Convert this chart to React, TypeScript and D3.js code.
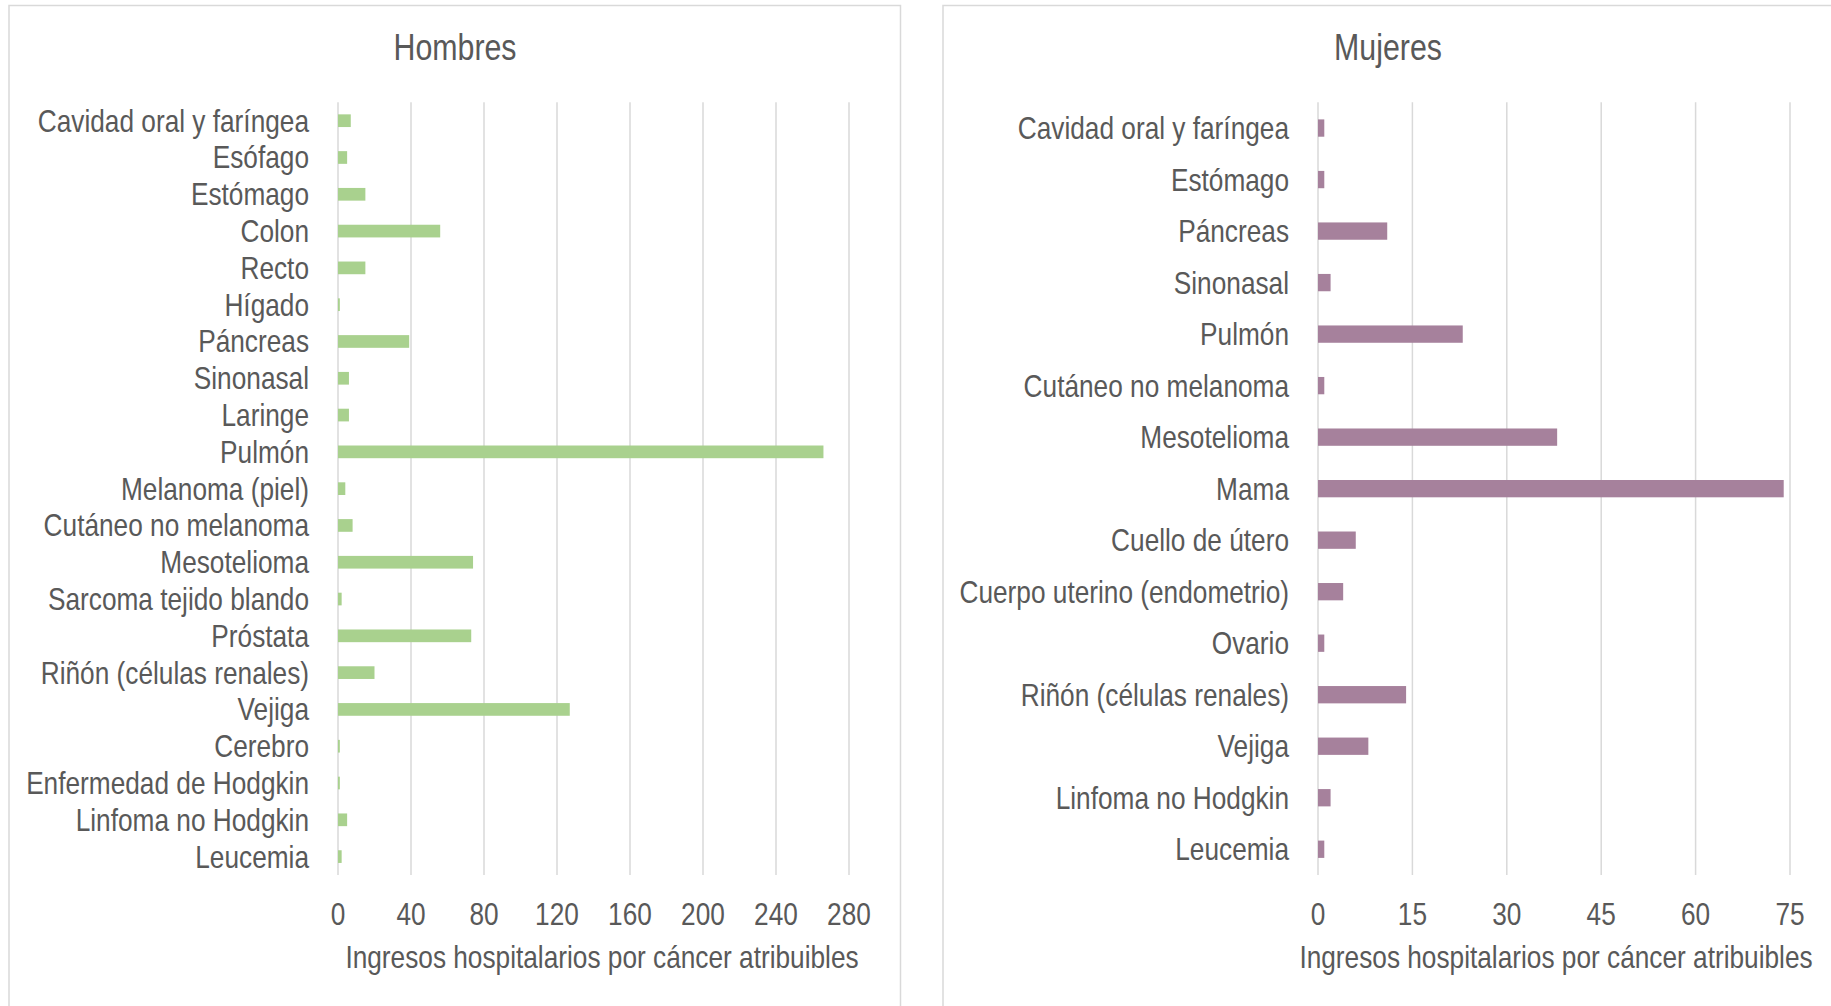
import React from "react";
import * as d3 from "d3";

const menCategories = [
  "Cavidad oral y faríngea", "Esófago", "Estómago", "Colon", "Recto", "Hígado",
  "Páncreas", "Sinonasal", "Laringe", "Pulmón", "Melanoma (piel)", "Cutáneo no melanoma",
  "Mesotelioma", "Sarcoma tejido blando", "Próstata", "Riñón (células renales)", "Vejiga",
  "Cerebro", "Enfermedad de Hodgkin", "Linfoma no Hodgkin", "Leucemia",
];
const menValues = [7, 5, 15, 56, 15, 1, 39, 6, 6, 266, 4, 8, 74, 2, 73, 20, 127, 1, 1, 5, 2];
const menTicks = [0, 40, 80, 120, 160, 200, 240, 280];

const womenCategories = [
  "Cavidad oral y faríngea", "Estómago", "Páncreas", "Sinonasal", "Pulmón",
  "Cutáneo no melanoma", "Mesotelioma", "Mama", "Cuello de útero",
  "Cuerpo uterino (endometrio)", "Ovario", "Riñón (células renales)", "Vejiga",
  "Linfoma no Hodgkin", "Leucemia",
];
const womenValues = [1, 1, 11, 2, 23, 1, 38, 74, 6, 4, 1, 14, 8, 2, 1];
const womenTicks = [0, 15, 30, 45, 60, 75];

const axisTitle = "Ingresos hospitalarios por cáncer atribuibles";

const FONT = "'Liberation Sans', Arial, sans-serif";
const TEXT = "#595959";
const GRID = "#d9d9d9";
const NARROW = 0.82;

function NText(props: { x: number; y: number; anchor: "start" | "middle" | "end"; size: number; children: React.ReactNode }) {
  return (
    <g transform={`translate(${props.x},${props.y}) scale(${NARROW},1)`}>
      <text x={0} y={0} textAnchor={props.anchor} fontSize={props.size} fill={TEXT} fontFamily={FONT}>{props.children}</text>
    </g>
  );
}

type PanelProps = {
  title: string;
  categories: string[];
  values: number[];
  ticks: number[];
  color: string;
  panelX0: number;
  panelX1: number;
  titleX: number;
  plotX0: number;
  plotX1: number;
  labelX: number;
  axisTitleX: number;
  padding: number;
};

function Panel(p: PanelProps) {
  const top = 102.3;
  const bottom = 875;
  const x = d3.scaleLinear().domain([0, p.ticks[p.ticks.length - 1]]).range([p.plotX0, p.plotX1]);
  const y = d3.scaleBand<string>().domain(p.categories).range([top, bottom]).paddingInner(p.padding).paddingOuter(p.padding / 2);
  return (
    <g>
      <rect x={p.panelX0} y={5.5} width={p.panelX1 - p.panelX0} height={1100} fill="#fff" stroke={GRID} strokeWidth={1.5} />
      <NText x={p.titleX} y={60} anchor="middle" size={37}>{p.title}</NText>
      {p.ticks.map((t) => (
        <line key={"g" + t} x1={x(t)} x2={x(t)} y1={top} y2={bottom} stroke={GRID} strokeWidth={1.5} />
      ))}
      {p.categories.map((c, i) => (
        <rect key={"b" + c} x={x(0)} y={y(c)!} width={Math.max(0, x(p.values[i]) - x(0))} height={y.bandwidth()} fill={p.color} />
      ))}
      {p.categories.map((c) => (
        <NText key={"l" + c} x={p.labelX} y={y(c)! + y.bandwidth() / 2 + 11} anchor="end" size={32}>{c}</NText>
      ))}
      {p.ticks.map((t) => (
        <NText key={"t" + t} x={x(t)} y={925} anchor="middle" size={32}>{t}</NText>
      ))}
      <NText x={p.axisTitleX} y={968} anchor="middle" size={32}>{axisTitle}</NText>
    </g>
  );
}

export default function App() {
  return (
    <svg width={1831} height={1006} style={{ position: "absolute", left: 0, top: 0, display: "block", background: "#fff" }}>
      <Panel
        title="Hombres"
        categories={menCategories}
        values={menValues}
        ticks={menTicks}
        color="#a9d18e"
        panelX0={9}
        panelX1={900.5}
        titleX={455}
        plotX0={338}
        plotX1={849}
        labelX={309}
        axisTitleX={602}
        padding={0.655}
      />
      <Panel
        title="Mujeres"
        categories={womenCategories}
        values={womenValues}
        ticks={womenTicks}
        color="#a6819c"
        panelX0={943}
        panelX1={1850}
        titleX={1388}
        plotX0={1318}
        plotX1={1790}
        labelX={1289}
        axisTitleX={1556}
        padding={0.664}
      />
    </svg>
  );
}
